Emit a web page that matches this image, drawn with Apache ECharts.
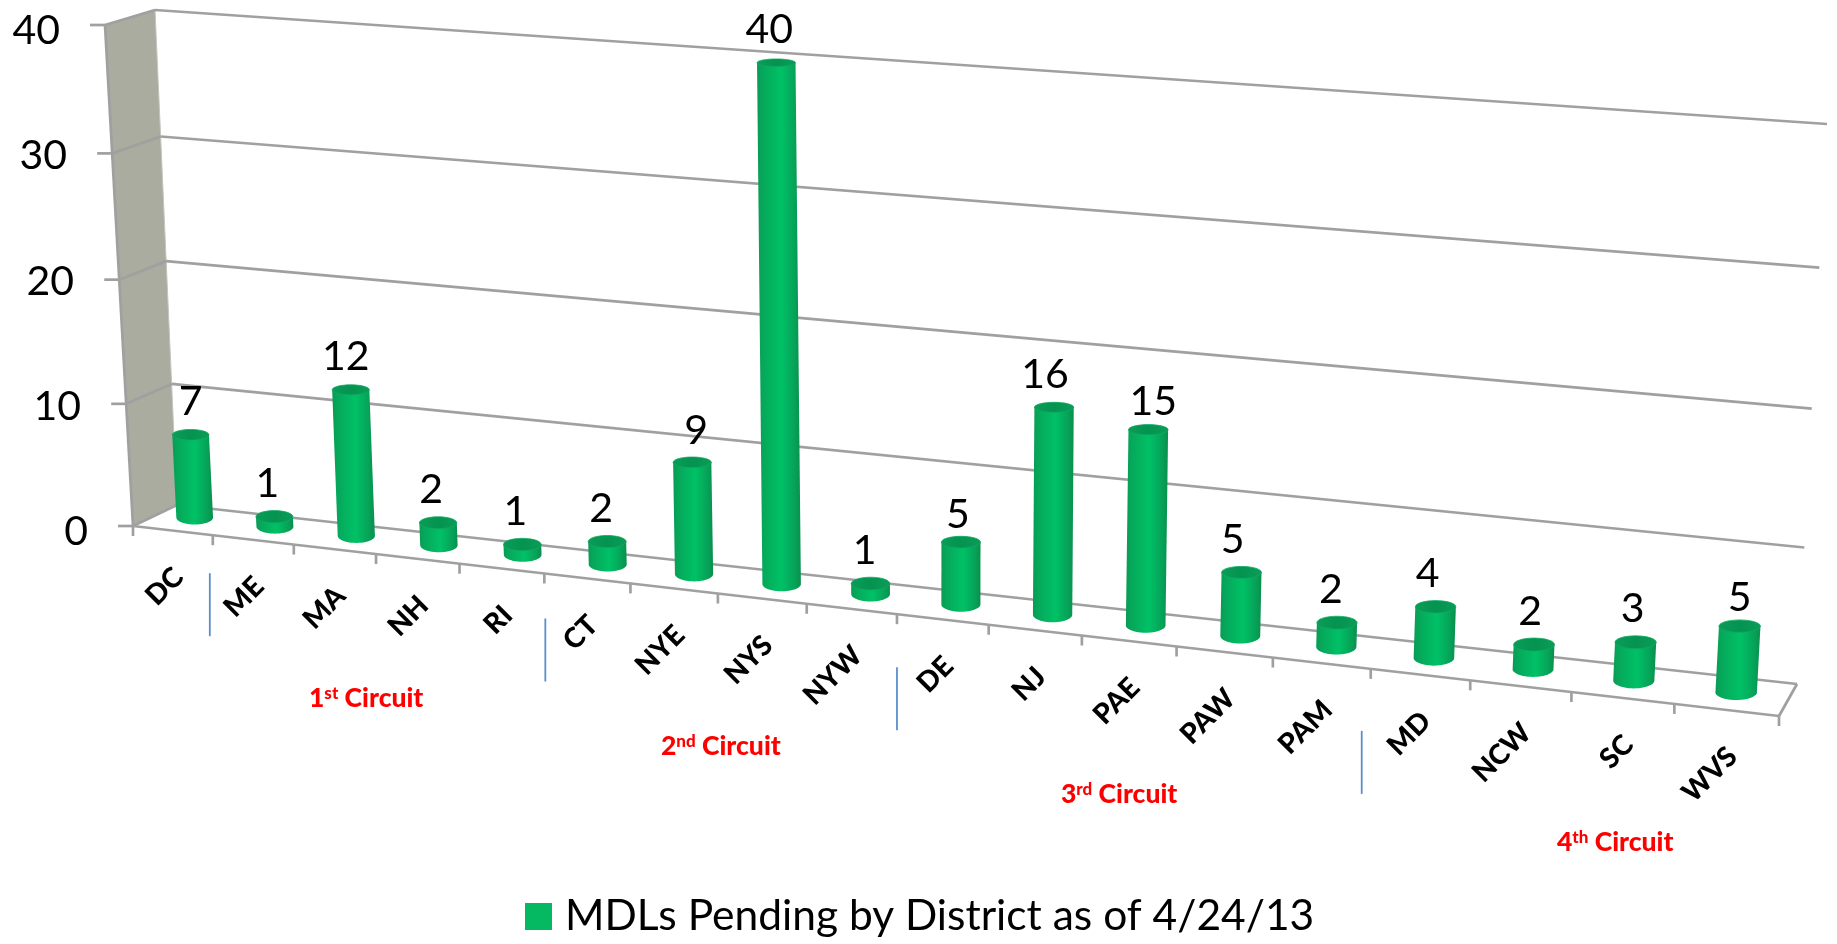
<!DOCTYPE html>
<html>
<head>
<meta charset="utf-8">
<style>html,body{margin:0;padding:0;background:#fff}#c{width:1837px;height:944px}</style>
<script src="https://cdn.jsdelivr.net/npm/echarts@6/dist/echarts.min.js"></script>
</head>
<body>
<div id="c"></div>
<script>
// ---- data ----
const categories = ['DC','ME','MA','NH','RI','CT','NYE','NYS','NYW','DE','NJ','PAE','PAW','PAM','MD','NCW','SC','WVS'];
const pendingValues = [7,1,12,2,1,2,9,40,1,5,16,15,5,2,4,2,3,5];
const yTickValues = [0,10,20,30,40];
const seriesName = 'MDLs Pending by District as of 4/24/13';
const circuitOrdinals = [['1','st'],['2','nd'],['3','rd'],['4','th']];
const circuitFirstCategory = ['ME','CT','DE','MD'];

// ---- layout ----
const W = 1837, H = 944;
const FONT = 'Lato';
const GRID = {left: 88, top: 31, width: 1690, height: 501};
const circuitAnchors = [[309,685],[661,733],[1061,781],[1557,829]];
const labelNudgeX = [3,-4,-2,-4,-4,-3,7,-4,-3,0,-6,8,-6,-3,-5,-1,0,3];
const labelNudgeY = [0,0,0,0,0,0,1,0,0,6,0,5,0,0,0,0,0,5];
const separatorNudge = {ME:[-1,-7],CT:[3,0],DE:[2,8],MD:[-7,17]};

function homography(p00, p10, p11, p01) {
  const dx1 = p10[0]-p11[0], dx2 = p01[0]-p11[0], sx = p00[0]-p10[0]+p11[0]-p01[0];
  const dy1 = p10[1]-p11[1], dy2 = p01[1]-p11[1], sy = p00[1]-p10[1]+p11[1]-p01[1];
  const den = dx1*dy2-dx2*dy1;
  const g = (sx*dy2-dx2*sy)/den, h = (dx1*sy-sx*dy1)/den;
  const a = p10[0]-p00[0]+g*p10[0], b = p01[0]-p00[0]+h*p01[0], c = p00[0];
  const d = p10[1]-p00[1]+g*p10[1], e = p01[1]-p00[1]+h*p01[1], f = p00[1];
  return (u,t) => { const w = g*u+h*t+1; return [(a*u+b*t+c)/w, (d*u+e*t+f)/w]; };
}
// perspective planes of the 3-D box: (u along the categories, t up the value axis)
const backPlane  = homography([177,505],[1797,684],[1827,124],[155,10]);
const midPlane   = homography([155,513],[1788,698],[1819,132],[130,16]);
const frontPlane = homography([133,526],[1779,716],[1811,142],[105,25]);

const uOf = (x, sys) => (x - sys.x) / sys.width;
const tOf = (y, sys) => (sys.y + sys.height - y) / sys.height;
const LINE = '#a0a0a0';
const seg = (a, b, w, color) => ({type:'line', shape:{x1:a[0],y1:a[1],x2:b[0],y2:b[1]},
  style:{stroke:color||LINE, lineWidth:w||2.7, fill:null}});

function renderFrame(params, api) {
  const sys = params.coordSys;
  const p = api.coord([api.value(0), api.value(1)]);
  const t = tOf(p[1], sys);
  const f = frontPlane(0,t), b = backPlane(0,t), r = backPlane(1,t);
  const kids = [];
  if (params.dataIndex === 0) {
    kids.push({type:'polygon', shape:{points:[frontPlane(0,0),frontPlane(0,1),backPlane(0,1),backPlane(0,0)]},
      style:{fill:'#a9ac9f', stroke:'#c4c5be', lineWidth:1}});
    kids.push(seg(frontPlane(0,0), frontPlane(0,1)));
    kids.push(seg(frontPlane(0,0), frontPlane(1,0)));
    kids.push(seg(frontPlane(1,0), backPlane(1,0)));
  }
  kids.push(seg([f[0]-15,f[1]], f));
  kids.push(seg(f, b));
  kids.push(seg(b, r));
  return {type:'group', children:kids};
}

function renderTicks(params, api) {
  const sys = params.coordSys;
  const i = api.value(0);
  const half = api.size([1,0])[0]/2;
  const x = api.coord([i,0])[0];
  const uL = uOf(x-half, sys), uR = uOf(x+half, sys), uC = uOf(x, sys);
  const a = frontPlane(uL,0);
  const kids = [seg(a,[a[0],a[1]+10])];
  if (i === categories.length-1) { const e = frontPlane(uR,0); kids.push(seg(e,[e[0],e[1]+10])); }
  const nudge = separatorNudge[categories[i]];
  if (nudge) {
    const sx = a[0]-2+nudge[0], sy = a[1]+45+nudge[1];
    kids.push({type:'line', shape:{x1:sx,y1:sy,x2:sx,y2:sy+63},
      style:{stroke:'#5b8fc9', lineWidth:1.8}});
  }
  const c = frontPlane(uC,0);
  kids.push({type:'text', x:c[0]+6, y:c[1]+42, rotation:Math.PI/4,
    style:{text:categories[i], fontFamily:FONT, fontWeight:900, fontSize:28, fill:'#000',
      align:'right', verticalAlign:'middle'}});
  return {type:'group', children:kids};
}

const bodyFill = new echarts.graphic.LinearGradient(0,0,1,0,[
  {offset:0,color:'#0a9a54'},{offset:.12,color:'#06a75a'},{offset:.55,color:'#00c166'},{offset:.85,color:'#06a358'},{offset:1,color:'#0a8f4d'}]);
const capFill = new echarts.graphic.LinearGradient(0,0,1,0,[
  {offset:0,color:'#0a9d58'},{offset:.5,color:'#049350'},{offset:1,color:'#0a9d58'}]);

function renderBar(params, api) {
  const sys = params.coordSys;
  const i = api.value(0), v = api.value(1);
  const cx = api.coord([i,0]);
  const top = api.coord([i,v]);
  const u = uOf(cx[0], sys), t = tOf(top[1], sys);
  const B = midPlane(u,0), T0 = midPlane(u,t), full = midPlane(u,1);
  const T = [T0[0], T0[1]+2.3];
  const scale = Math.hypot(full[0]-B[0], full[1]-B[1]) / 498;
  const hw = 18.3*scale, ryB = 7*scale, ryT = 6.5*(1-0.45*Math.sqrt(t))*scale;
  const pts = [[T[0]-hw,T[1]]];
  for (let a=0; a<=24; a++) {
    const th = Math.PI*(1-a/24);
    pts.push([B[0]+hw*Math.cos(th), B[1]+ryB*Math.sin(th)]);
  }
  pts.push([T[0]+hw,T[1]]);
  return {type:'group', children:[
    {type:'polygon', shape:{points:pts}, style:{fill:bodyFill}},
    {type:'ellipse', shape:{cx:T[0],cy:T[1],rx:hw,ry:ryT}, style:{fill:capFill, stroke:'#12a862', lineWidth:.8}},
    {type:'text', x:T[0]-3+labelNudgeX[params.dataIndex], y:T[1]-33+labelNudgeY[params.dataIndex],
      style:{text:String(v), fontFamily:FONT, fontSize:41, fill:'#000', align:'center', verticalAlign:'middle'}}
  ]};
}

const yRich = {};
yTickValues.forEach(v => { yRich['p'+v] = {fontFamily:FONT, fontSize:41, color:'#000', padding:[0,0.7*v,0,0]}; });

const chart = echarts.init(document.getElementById('c'), null, {renderer:'canvas', width:W, height:H});
chart.setOption({
  animation:false,
  backgroundColor:'#fff',
  grid:{left:GRID.left, top:GRID.top, width:GRID.width, height:GRID.height, containLabel:false},
  xAxis:{type:'category', data:categories, show:false},
  yAxis:{type:'value', min:0, max:40, interval:10, axisLine:{show:false}, axisTick:{show:false}, splitLine:{show:false},
    axisLabel:{margin:0, formatter:v=>`{p${v}|${v}}`, rich:yRich}},
  legend:{left:525, top:895, padding:0, itemWidth:27, itemHeight:27, icon:'rect', data:[{name:seriesName, itemStyle:{color:'#05b862'}}],
    selectedMode:false, textStyle:{fontFamily:FONT, fontSize:42.5, color:'#000', padding:[0,0,0,8]}},
  series:[
    {type:'custom', name:'frame', z:1, silent:true, renderItem:renderFrame, encode:{x:0,y:1},
      data:yTickValues.map(v=>[0,v])},
    {type:'custom', name:'ticks', z:1, silent:true, renderItem:renderTicks, encode:{x:0,y:1},
      data:categories.map((c,i)=>[i,0])},
    {type:'custom', name:seriesName, z:3, itemStyle:{color:'#05b862'}, renderItem:renderBar, encode:{x:0,y:1},
      data:pendingValues.map((v,i)=>[i,v])}
  ],
  graphic:circuitOrdinals.map((o,i)=>({
    type:'text', left:circuitAnchors[i][0], top:circuitAnchors[i][1], silent:true,
    style:{
      text:`{n|${o[0]}}{s|${o[1]}}{n| Circuit}`,
      rich:{n:{fontFamily:FONT,fontWeight:900,fontSize:26.5,fill:'#f00',color:'#f00',verticalAlign:'bottom'},
            s:{fontFamily:FONT,fontWeight:900,fontSize:17,fill:'#f00',color:'#f00',verticalAlign:'top'}},
      fill:'#f00'
    }
  }))
});
</script>
</body>
</html>
